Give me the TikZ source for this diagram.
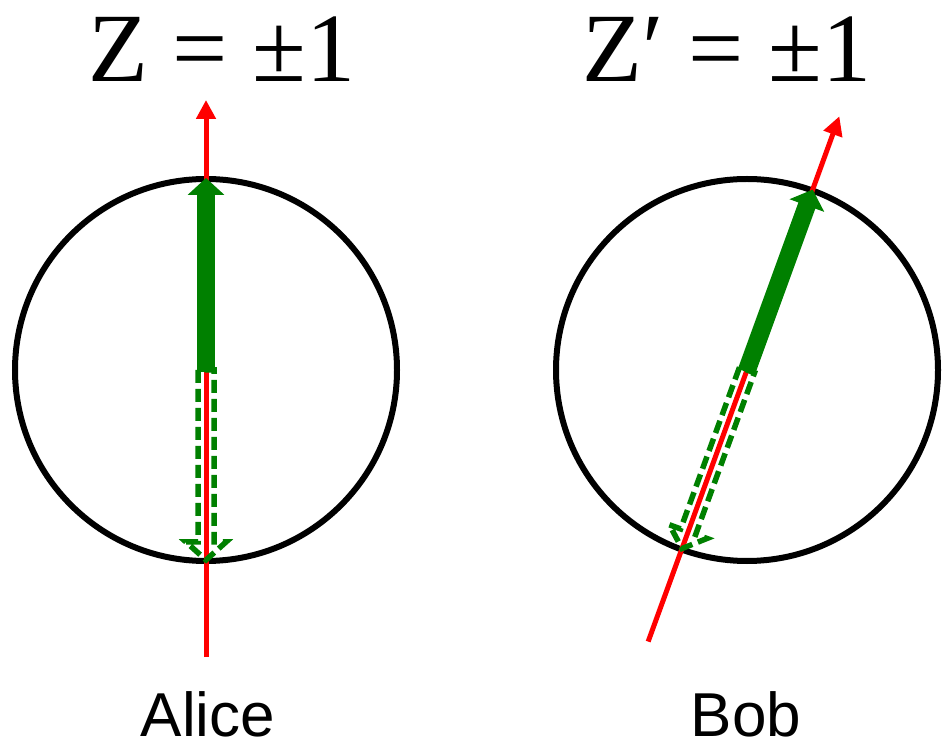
\documentclass[tikz,border=0pt]{standalone}
\usepackage{fontspec}
\setmainfont{Liberation Serif}
\newfontfamily\namefont{Liberation Sans}
\usepackage{tikz}
\usetikzlibrary{arrows.meta}
\definecolor{spingreen}{RGB}{0,128,0}
\definecolor{axisred}{RGB}{255,0,0}

\begin{document}
\begin{tikzpicture}[x=1pt, y=1pt,
    sphere/.style={black, line width=6pt},
    axis/.style={axisred, line width=5pt, -{Triangle[length=19pt, width=19pt]}},
    spinup/.style={spingreen, line width=18pt, -{Triangle[length=17pt, width=36pt]}},
    spindown/.style={spingreen, line width=5.5pt, dash pattern=on 13pt off 6pt},
    heading/.style={font=\fontsize{98}{100}\selectfont, inner sep=0pt, anchor=base},
    person/.style={font=\namefont\fontsize{62}{64}\selectfont, inner sep=0pt,
      text depth=0pt, anchor=base}]
  \useasboundingbox (0, 0) rectangle (942, 750);
  % centres of the two spheres
  \coordinate (alice) at (206, 380);
  \coordinate (bob) at (747, 380);
  % left sphere, axis along Z
  \draw[sphere] (alice) circle (191);
  \begin{scope}[shift={(alice)}]
    \coordinate (aBot) at (0, -287);
    \coordinate (aTop) at (0, 270);
    \coordinate (aUp) at (0, 192);
    \draw[axis] (aBot) -- (aTop);
    \draw[spindown] (-8, 0) -- (-8, -172) -- (-20, -172) -- (0, -190)
                    -- (20, -172) -- (8, -172) -- (8, 0) -- cycle;
    \draw[spinup] (0, -2) -- (aUp);
  \end{scope}
  % right sphere, axis along Z' (tilted)
  \draw[sphere] (bob) circle (191);
  \begin{scope}[shift={(bob)}, rotate=-20]
    \coordinate (bBot) at (0, -289);
    \coordinate (bTop) at (0, 270);
    \coordinate (bUp) at (0, 192);
    \draw[axis] (bBot) -- (bTop);
    \draw[spindown] (-8, 0) -- (-8, -172) -- (-20, -172) -- (0, -190)
                    -- (20, -172) -- (8, -172) -- (8, 0) -- cycle;
    \draw[spinup] (0, -2) -- (bUp);
  \end{scope}
  % labels
  \node[heading] (zA) at (222, 668) {Z = ±1};
  \node[heading] (zB) at (727, 668) {Z′ = ±1};
  \node[person] (nA) at (208, 14) {Alice};
  \node[person] (nB) at (746, 14) {Bob};
\end{tikzpicture}
\end{document}
